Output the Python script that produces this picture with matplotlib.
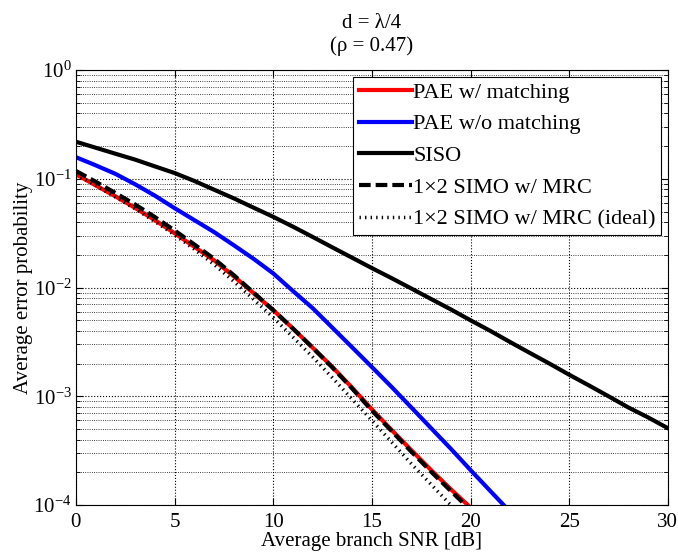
import numpy as np
import matplotlib
matplotlib.use('Agg')
import matplotlib.pyplot as plt
from matplotlib.ticker import LogLocator, NullFormatter

plt.rcParams['font.family'] = ['Liberation Serif', 'DejaVu Serif']
plt.rcParams['mathtext.fontset'] = 'custom'
plt.rcParams['mathtext.rm'] = 'Liberation Serif'
plt.rcParams['mathtext.it'] = 'Liberation Serif:italic'

# values (SNR in dB, error probability)
snr = list(range(0, 31))
pe_siso = [0.219, 0.193, 0.170, 0.150, 0.130, 0.113, 0.0955, 0.0794, 0.0661, 0.0543,
           0.0447, 0.0363, 0.0292, 0.0234, 0.0188, 0.0151, 0.0122, 0.0098, 0.00785, 0.0063,
           0.0050, 0.0040, 0.00316, 0.00251, 0.0020, 0.00158, 0.00126, 0.0010, 0.00079, 0.00064,
           0.00051]

pe_wo = [0.158, 0.133, 0.111, 0.089, 0.070, 0.0537, 0.0417, 0.0324, 0.0245, 0.0184,
         0.0135, 0.0093, 0.00646, 0.00427, 0.00282, 0.00186, 0.00122, 0.00079, 0.00051, 0.00033,
         0.00021, 0.000135, 0.000087]

pe_w = [0.110, 0.087, 0.069, 0.054, 0.0417, 0.0316, 0.0237, 0.0178, 0.0127, 0.0089,
        0.0062, 0.0042, 0.0028, 0.00186, 0.0012, 0.00076, 0.00049, 0.00032, 0.00021, 0.00014,
        0.000095]

pe_mrc = [0.118, 0.094, 0.074, 0.058, 0.0445, 0.0335, 0.0249, 0.0184, 0.0130, 0.0090,
          0.0062, 0.0042, 0.0028, 0.00184, 0.00118, 0.00074, 0.00048, 0.00031, 0.000203, 0.000135,
          0.00009]

pe_ideal = [0.110, 0.087, 0.068, 0.053, 0.0405, 0.0305, 0.0225, 0.0163, 0.0114, 0.0078,
            0.0053, 0.0035, 0.0023, 0.00148, 0.00094, 0.0006, 0.00038, 0.00024, 0.000155, 0.0001,
            0.000065]

fig = plt.figure(figsize=(6.78, 5.6), dpi=100)
ax = fig.add_axes([0.112, 0.098, 0.873, 0.777])

ax.semilogy(snr[:len(pe_w)], pe_w, color='red', lw=3, label='PAE w/ matching')
ax.semilogy(snr[:len(pe_wo)], pe_wo, color='blue', lw=3, label='PAE w/o matching')
ax.semilogy(snr, pe_siso, color='black', lw=3, label='SISO')
ax.semilogy(snr[:len(pe_mrc)], pe_mrc, color='black', lw=3, ls=(0, (2.8, 1.2)),
            label='1×2 SIMO w/ MRC')
ax.semilogy(snr[:len(pe_ideal)], pe_ideal, color='black', lw=2.5, ls=(0, (0.4, 1.2)),
            label='1×2 SIMO w/ MRC (ideal)')

ax.set_xlim(0, 30)
ax.set_ylim(1e-4, 1)
ax.set_xticks([0, 5, 10, 15, 20, 25, 30])
ax.yaxis.set_major_locator(LogLocator(base=10, numticks=10))
ax.yaxis.set_minor_locator(LogLocator(base=10, subs=np.arange(2, 10), numticks=20))
ax.yaxis.set_minor_formatter(NullFormatter())

ax.grid(True, which='major', ls=':', color='black', lw=0.8)
ax.grid(True, which='minor', axis='y', ls=':', color='black', lw=0.6)
ax.tick_params(which='both', direction='in', top=True, right=True, labelsize=15)
ax.tick_params(which='major', length=5)
ax.tick_params(which='minor', length=3)
ax.tick_params(axis='y', which='major', pad=3)
ax.tick_params(axis='x', which='major', pad=6)

ax.set_xlabel('Average branch SNR [dB]', fontsize=15, labelpad=0)
ax.set_ylabel('Average error probability', fontsize=15, labelpad=0)
ax.set_title('d = λ/4\n(ρ = 0.47)', fontsize=15, linespacing=1.2, pad=14)

leg = ax.legend(loc='upper right', fontsize=16, handlelength=2.4, handletextpad=0.05,
                borderpad=0.25, labelspacing=0.5, fancybox=False, framealpha=1,
                borderaxespad=0.3)
leg.get_frame().set_edgecolor('black')
leg.get_frame().set_linewidth(0.8)

fig.savefig('out.png', dpi=100)
